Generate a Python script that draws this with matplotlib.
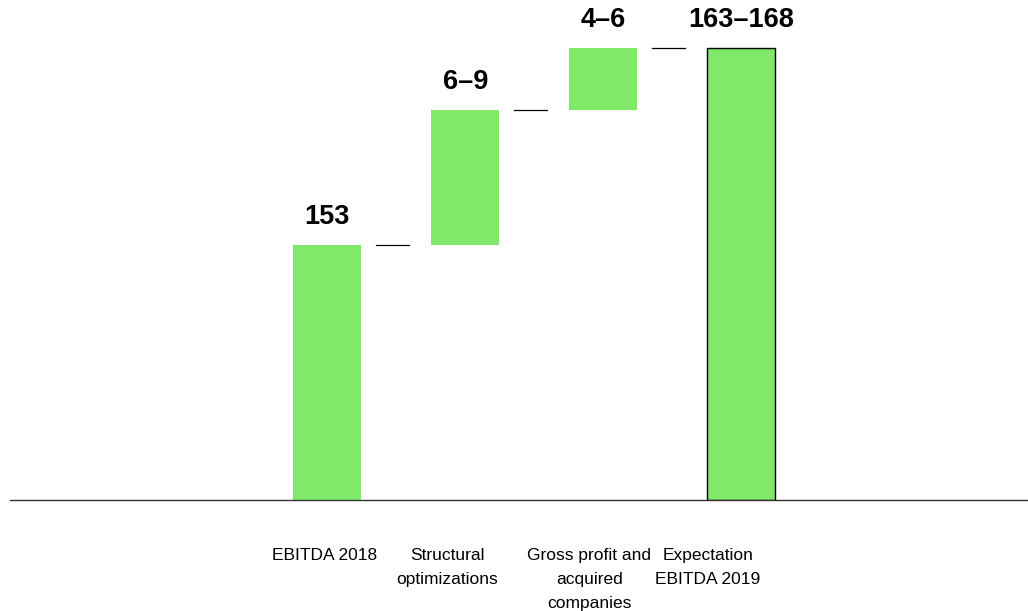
import numpy as np
import matplotlib.pyplot as plt

plt.rcParams['font.family'] = ['Liberation Sans', 'DejaVu Sans']

# Daten (Balkenhöhen sind schematisch, die Beschriftung zeigt die echten Werte)
categories = ["EBITDA 2018", "Structural\noptimizations",
              "Gross profit and\nacquired\ncompanies", "Expectation\nEBITDA 2019"]
value_labels = ["153", "6\u20139", "4\u20136", "163\u2013168"]
start_value = 153
step_values = [81, 37]

green = "#80E96A"

fig = plt.figure(figsize=(10.28, 6.11), dpi=100)
ax = fig.add_axes([10 / 1028, 111 / 611, 1018 / 1028, 500 / 611])

x = np.arange(len(categories))
bottoms = [0, start_value, start_value + step_values[0], 0]
heights = [start_value, step_values[0], step_values[1],
           start_value + sum(step_values)]
tops = [b + h for b, h in zip(bottoms, heights)]

for i in range(len(categories)):
    edge = "black" if i == len(categories) - 1 else "none"
    ax.bar(x[i], heights[i], bottom=bottoms[i], width=0.49, color=green,
           edgecolor=edge, linewidth=1.0, zorder=2)
    ax.annotate(value_labels[i], (x[i], tops[i]), xytext=(0, 21),
                textcoords="offset pixels", ha="center", va="baseline",
                fontsize=19.5, fontweight="bold")

# Verbindungslinien zwischen den Balken
for i in range(len(categories) - 1):
    ax.plot([x[i] + 0.355, x[i] + 0.59], [tops[i], tops[i]],
            color="black", linewidth=0.9)

# Kategorienbeschriftung
label_shift = [-0.02, -0.13, -0.10, -0.24]
for i, cat in enumerate(categories):
    ax.text(x[i] + label_shift[i], -29, cat, ha="center", va="top",
            fontsize=12.5, linespacing=1.72)

ax.set_xlim(-2.30, 5.08)
ax.set_ylim(0, 300)
ax.plot([-2.30, 5.08], [0, 0], color="#333333", linewidth=1.0,
        zorder=3, clip_on=False)
for s in ax.spines.values():
    s.set_visible(False)
ax.set_xticks([])
ax.set_yticks([])

fig.savefig("out.png", dpi=100)
